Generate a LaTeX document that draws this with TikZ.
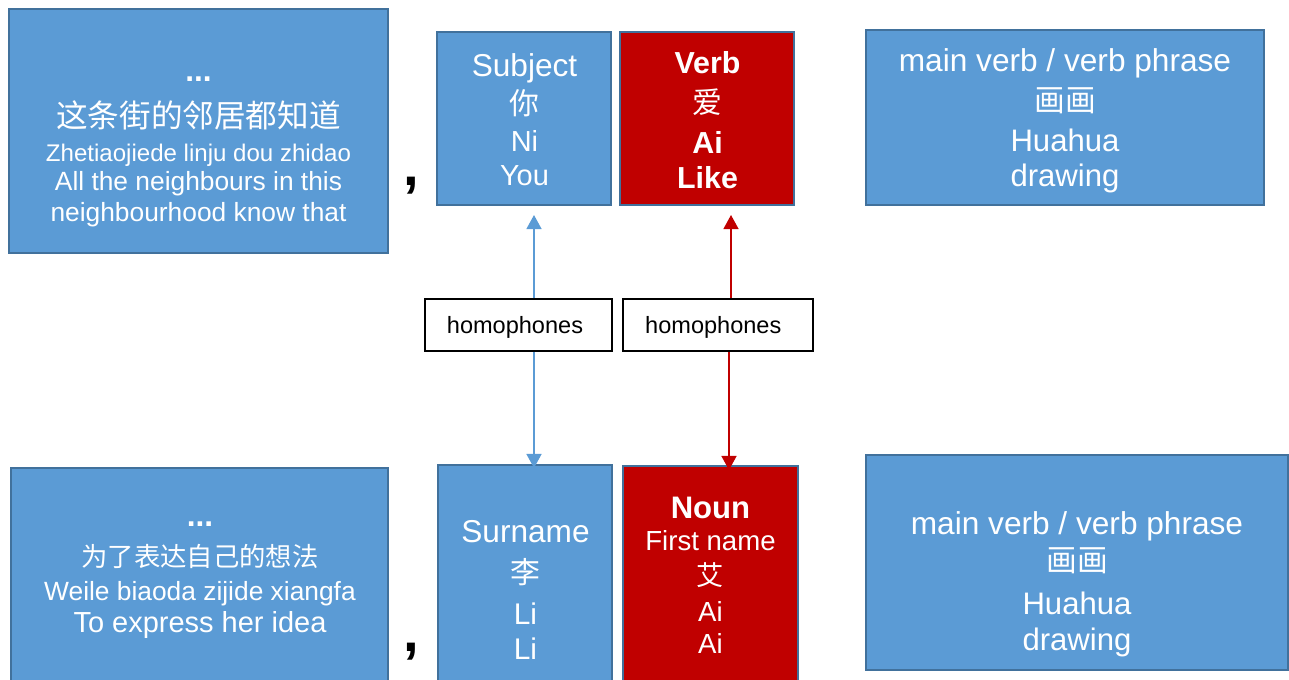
\documentclass[tikz,border=0pt]{standalone}
\usepackage{fontspec}
\setmainfont{Liberation Sans}
\newfontfamily\cn{Noto Sans CJK SC}
\usetikzlibrary{arrows.meta, fit}

\definecolor{boxblue}{HTML}{5B9BD5}
\definecolor{boxedge}{HTML}{41719C}
\definecolor{boxred}{HTML}{C00000}

\newcommand\fs[1]{\fontsize{#1}{#1}\selectfont}

\begin{document}
\begin{tikzpicture}[x = 0.02cm, y = -0.02cm, > = {Triangle[width = 8.5pt, length = 8pt]},
	bluebox/.style = {draw = boxedge, fill = boxblue, line width = 1.3pt, inner sep = 0pt},
	redbox/.style = {bluebox, fill = boxred},
	tagbox/.style = {draw = black, fill = white, line width = 0.9pt, inner sep = 0pt},
	line/.style = {text = white, anchor = base, inner sep = 0pt},
	comma/.style = {font = \fs{32}\bfseries, anchor = base, inner sep = 0pt},
	link/.style = {->, line width = 1pt}]

	\useasboundingbox (0, 0) rectangle (1289, 680);

	% Boxes (pixel corners)

	\node [bluebox, fit = {(9, 9) (388, 253)}] (ctxA) {};
	\node [bluebox, fit = {(437, 32) (611, 205)}] (subj) {};
	\node [redbox, fit = {(620, 32) (794, 205)}] (verb) {};
	\node [bluebox, fit = {(866, 30) (1264, 205)}] (mainA) {};

	\node [bluebox, fit = {(11, 468) (388, 700)}] (ctxB) {};
	\node [bluebox, fit = {(438, 465) (612, 700)}] (surn) {};
	\node [redbox, fit = {(623, 466) (798, 700)}] (noun) {};
	\node [bluebox, fit = {(866, 455) (1288, 670)}] (mainB) {};

	\node [tagbox, fit = {(425, 299) (612, 351)}] (homoA) {};
	\node [tagbox, fit = {(623, 299) (813, 351)}] (homoB) {};

	% Top row texts

	\foreach \y/\txt [count = \i] in {81.7/{\fs{18}\bfseries ...}, 127.5/{\fs{18}\cn 这条街的邻居都知道},
		161.7/{\fs{13.7}Zhetiaojiede linju dou zhidao}, 190.5/{\fs{15}All the neighbours in this},
		221.5/{\fs{15}neighbourhood know that}}
		\node [line] (ctxA-\i) at (198.5, \y) {\txt};

	\foreach \y/\txt [count = \i] in {76/{\fs{18}Subject}, 114.5/{\fs{17}\cn 你},
		151.7/{\fs{16.5}Ni}, 185.7/{\fs{16.5}You}}
		\node [line] (subj-\i) at (524.5, \y) {\txt};

	\foreach \y/\txt [count = \i] in {73.3/{\fs{17.3}\bfseries Verb}, 113.5/{\fs{17}\cn 爱},
		153.3/{\fs{17.3}\bfseries Ai}, 188.3/{\fs{17.3}\bfseries Like}}
		\node [line] (verb-\i) at (707.5, \y) {\txt};

	\foreach \y/\txt [count = \i] in {71.7/{\fs{18}main verb / verb phrase}, 111/{\fs{17.5}\cn 画画},
		151.7/{\fs{17.7}Huahua}, 186.7/{\fs{17.7}drawing}}
		\node [line] (mainA-\i) at (1065, \y) {\txt};

	% Bottom row texts

	\foreach \y/\txt [count = \i] in {526/{\fs{18}\bfseries ...}, 566.5/{\fs{15}\cn 为了表达自己的想法},
		600/{\fs{15}Weile biaoda zijide xiangfa}, 632.7/{\fs{16.5}To express her idea}}
		\node [line] (ctxB-\i) at (200, \y) {\txt};

	\foreach \y/\txt [count = \i] in {542.7/{\fs{18}Surname}, 583.5/{\fs{17}\cn 李},
		624/{\fs{17}Li}, 659.3/{\fs{17}Li}}
		\node [line] (surn-\i) at (525.5, \y) {\txt};

	\foreach \y/\txt [count = \i] in {518.3/{\fs{17.7}\bfseries Noun}, 550/{\fs{15.7}First name},
		585.5/{\fs{15.5}\cn 艾}, 621.7/{\fs{15.7}Ai}, 653.3/{\fs{15.7}Ai}}
		\node [line] (noun-\i) at (710.5, \y) {\txt};

	\foreach \y/\txt [count = \i] in {534.3/{\fs{18}main verb / verb phrase}, 571.5/{\fs{17.5}\cn 画画},
		614.3/{\fs{17.7}Huahua}, 650/{\fs{17.7}drawing}}
		\node [line] (mainB-\i) at (1077, \y) {\txt};

	% Labels + commas

	\node [anchor = base, font = \fs{13.4}] (homoA-txt) at (515, 333.3) {homophones};
	\node [anchor = base, font = \fs{13.4}] (homoB-txt) at (713.3, 333.3) {homophones};

	\node [comma] (commaA) at (411, 185) {,};
	\node [comma] (commaB) at (411, 651) {,};

	% Arrows

	\coordinate (subjtip) at (534, 215);
	\coordinate (surntip) at (534, 468);
	\coordinate (verbtip) at (731, 215);
	\coordinate (nountip) at (729, 470);

	\draw [link, boxblue] (homoA.north -| subjtip) -- (subjtip);
	\draw [link, boxblue] (homoA.south -| surntip) -- (surntip);
	\draw [link, boxred] (homoB.north -| verbtip) -- (verbtip);
	\draw [link, boxred] (homoB.south -| nountip) -- (nountip);

\end{tikzpicture}
\end{document}
